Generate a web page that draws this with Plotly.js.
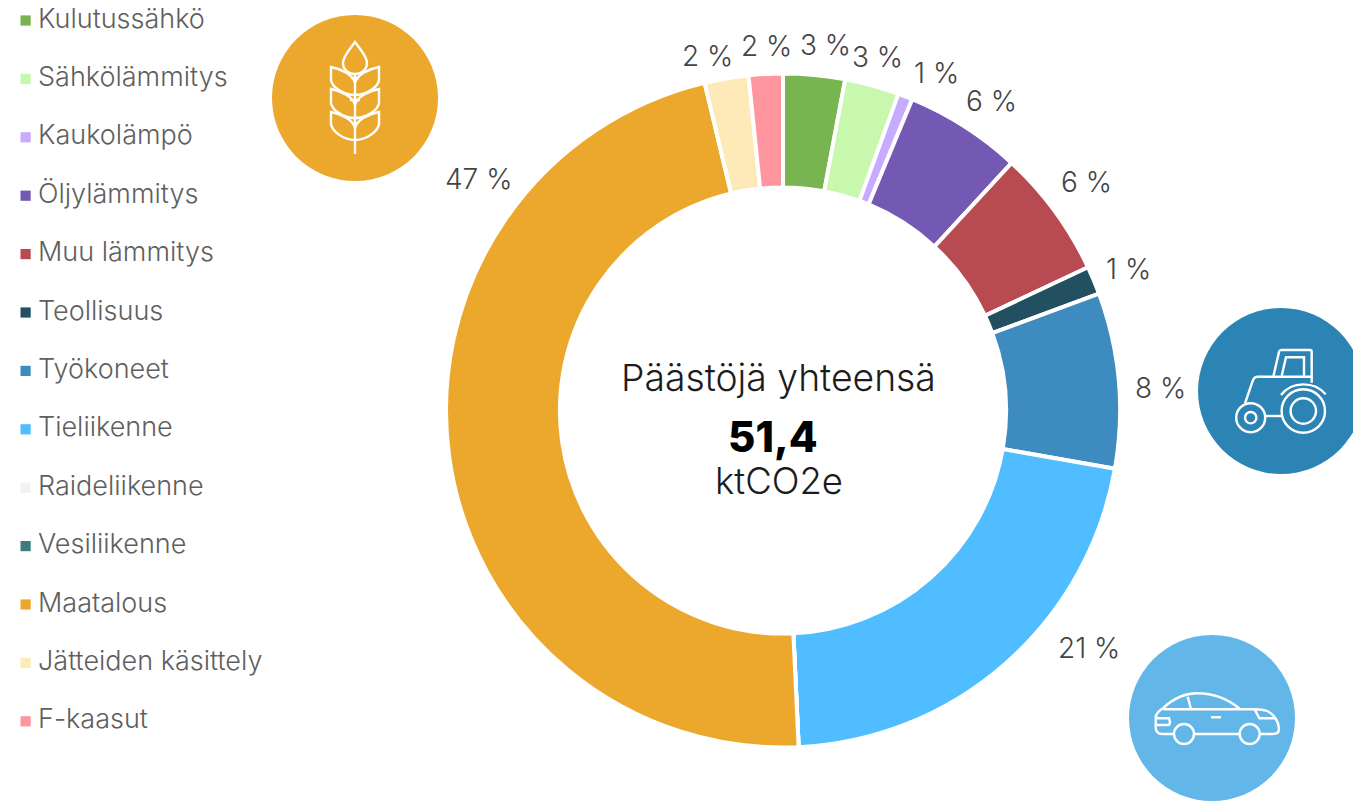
<!DOCTYPE html>
<html><head><meta charset="utf-8">
<script src="https://cdn.plot.ly/plotly-3.0.1.min.js"></script>
<style>html,body{margin:0;padding:0;background:#fff;overflow:hidden}#c{width:1353px;height:801px}</style>
</head><body><div id="c"></div>
<script>
const categories = ["Kulutussähkö","Sähkölämmitys","Kaukolämpö","Öljylämmitys","Muu lämmitys","Teollisuus","Työkoneet","Tieliikenne","Raideliikenne","Vesiliikenne","Maatalous","Jätteiden käsittely","F-kaasut"];
const emissions = [1.52,1.34,0.36,2.88,3.16,0.69,4.32,11.05,0,0,24.16,1.08,0.84];
const shareLabels = ["3 %","3 %","1 %","6 %","6 %","1 %","8 %","21 %","","","47 %","2 %","2 %"];
const colors = ["#78B450","#C8F8AE","#C6ABFF","#7359B3","#B84B52","#225061","#3D8BBF","#4FBDFF","#F2F2F2","#3F7A7C","#ECA72D","#FEE9B8","#FF959F"];
const W = 1353, H = 801;
const FONT = "Inter, sans-serif";
const px = x => x / W, py = y => 1 - y / H;
// layout: centre points of the outside labels
const labelCentres = [[825,45],[877,57],[936,73],[991,101],[1086,182],[1128,269],[1160,388],[1089,648],null,null,[479,179],[707,56],[766,46]];
const annotations = [];
const shapes = [];
function txt(x,y,text,size,color,anchor,weight){
  annotations.push({xref:"paper",yref:"paper",x:px(x),y:py(y),text:text,showarrow:false,xanchor:anchor||"center",yanchor:"middle",
    borderpad:0,font:{family:FONT,size:size,color:color,weight:weight||300}});
}
shareLabels.forEach((t,i)=>{ if(t) txt(labelCentres[i][0],labelCentres[i][1],t,28,"#444444"); });
categories.forEach((c,i)=>{
  const yc = 18 + i*58.4;
  shapes.push({type:"rect",xref:"paper",yref:"paper",x0:px(20.5),x1:px(30.7),y0:py(yc+7.6),y1:py(yc-2.6),fillcolor:colors[i],line:{width:0}});
  txt(36.5,yc,c,27,"#5f5f5f","left");
});
txt(778.5,377,"Päästöjä yhteensä",37.3,"#1c1c1c");
txt(772.5,436,"51,4",42,"#000000","center",800);
txt(779,481,"ktCO2e",36.5,"#1c1c1c");
// icon helpers (pixel to paper)
function disc(cx,cy,r,fill){shapes.push({type:"circle",xref:"paper",yref:"paper",x0:px(cx-r),x1:px(cx+r),y0:py(cy+r),y1:py(cy-r),fillcolor:fill,line:{width:0}});}
function ring(cx,cy,r,w){shapes.push({type:"circle",xref:"paper",yref:"paper",x0:px(cx-r),x1:px(cx+r),y0:py(cy+r),y1:py(cy-r),fillcolor:"rgba(0,0,0,0)",line:{color:"#ffffff",width:w||2.4}});}
function stroke(d,w){
  const path = d.replace(/(-?[\d.]+),(-?[\d.]+)/g,(m,a,b)=>px(+a).toFixed(6)+","+py(+b).toFixed(6));
  shapes.push({type:"path",xref:"paper",yref:"paper",path:path,fillcolor:"rgba(0,0,0,0)",line:{color:"#ffffff",width:w||2.4}});
}
// wheat
disc(355,98,83,"#ECA72D");
stroke("M355,42 C350,49 343,56 343,63 C343,70 349,74 355,74 C361,74 367,70 367,63 C367,56 360,49 355,42 Z");
stroke("M355,74 L355,154");
[[67,80,95,83],[89,103,118,105],[112,124,140,128]].forEach(r=>{
  stroke(`M355,${r[3]} C353,${r[0]+8} 342,${r[0]+2} 331,${r[0]} L331,${r[1]} C332,${r[1]+7} 343,${r[2]} 355,${r[2]}`);
  stroke(`M355,${r[3]} C357,${r[0]+8} 368,${r[0]+2} 379,${r[0]} L379,${r[1]} C378,${r[1]+7} 367,${r[2]} 355,${r[2]}`);
});
stroke("M351,78 L359,78");stroke("M350,100 L360,100");stroke("M350,118 L360,118");
// tractor
disc(1281,391,83,"#2C84B5");
ring(1303.3,411,21.7);ring(1303.3,411,12.7);ring(1250.7,417.7,14.5);ring(1250.7,417.7,5.7);
stroke("M1281,395 C1292,381 1314,381 1325.7,394.3");
stroke("M1245,403.3 L1252.7,381 C1253.5,378 1255,376.7 1258,376.7 L1311.7,376.7");
stroke("M1273.3,376.7 L1279,352 C1279.5,350 1280,350 1282,350 L1310,350 C1311,350 1311.7,350.5 1311.7,352 L1311.7,382.7");
stroke("M1281.7,376 L1286,357.3 L1304,357.3 L1304,376");
stroke("M1265.5,416 L1281.7,416");
// car
disc(1212,718,83,"#62B7E8");
ring(1184,734,10);ring(1249.7,734,10);
stroke("M1174,734 L1162,734 C1158,734 1155.7,731 1155.7,728 L1155.7,717.3 C1156,713 1160,710 1163.3,708 C1175,697 1185,693.3 1197,693.3 C1215,693.3 1228,699 1240,709");
stroke("M1194,734 L1239.7,734");
stroke("M1259.7,734 L1273,734 C1277,734 1279,732 1279,729 C1279,722 1274,714 1267,711 C1263,709.5 1259,709.3 1255,709.3 L1163.3,709.3");
stroke("M1187.7,696.7 L1191,709");
stroke("M1255,710 L1259.3,718.3 L1275,718.3");
stroke("M1211,717.3 L1221,717.3");
stroke("M1157,718.3 L1169,718.3 L1170,722 C1170,724 1169,725 1168,725 L1157,725");

const trace = {type:"pie",labels:categories,values:emissions,sort:false,direction:"clockwise",rotation:0,hole:0.662,
  marker:{colors:colors,line:{color:"#ffffff",width:4}},textinfo:"none",hoverinfo:"label+value",showlegend:false,
  domain:{x:[px(446),px(1120)],y:[py(747.5),py(73.5)]}};
Plotly.newPlot("c",[trace],{width:W,height:H,margin:{l:0,r:0,t:0,b:0},paper_bgcolor:"#fff",showlegend:false,annotations:annotations,shapes:shapes},{displayModeBar:false});
</script></body></html>
